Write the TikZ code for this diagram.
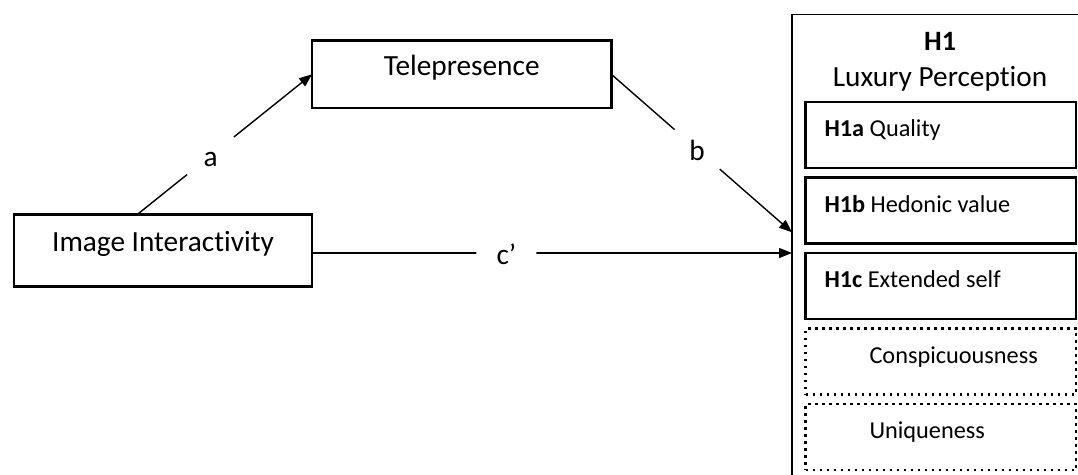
\documentclass[tikz,border=0pt]{standalone}
\usepackage{fontspec}
\setmainfont{Carlito}[Ligatures=CommonOff]
\usetikzlibrary{positioning,arrows.meta}

\begin{document}
\begin{tikzpicture}[x=1pt,y=-1pt,
  varbox/.style={draw,line width=2.7pt,outer sep=0pt,minimum width=298pt,minimum height=71.6pt,
    font=\fontsize{29.3}{35}\selectfont,text height=20pt,text depth=18pt},
  hypbox/.style={draw,line width=2.7pt,outer sep=0pt,minimum width=270.5pt,minimum height=66pt,
    inner xsep=19pt,font=\fontsize{24.3}{29}\selectfont,text height=17pt,text depth=14pt,
    execute at begin node={\hbox to 232.5pt\bgroup},execute at end node={\hfil\egroup}},
  dimbox/.style={hypbox,dash pattern=on 2.6pt off 4.4pt,execute at begin node={\hspace*{45pt}}},
  link/.style={line width=1.4pt,-{Triangle[length=13pt,width=10pt]}},
  coef/.style={circle,fill=white,minimum size=60pt,inner sep=0pt,
    font=\fontsize{29.3}{35}\selectfont,text height=22pt,text depth=0pt}]
\useasboundingbox (0,0) rectangle (1078,474);
\clip (0,0) rectangle (1078,474);
% variables
\node[varbox] (ii) at (163,250.5) {Image Interactivity};
\node[varbox,minimum width=299.3pt,minimum height=67.3pt] (tele) at (461.7,74.3) {Telepresence};
% outcome panel
\node[draw,line width=1.5pt,outer sep=0pt,minimum width=300pt,minimum height=480pt,anchor=north west] (panel) at (792,14.3) {};
\node[font=\fontsize{28}{34}\selectfont\bfseries,anchor=base] (h1) at (940,50) {H1};
\node[font=\fontsize{29.3}{35}\selectfont,anchor=base] (lux) at (940,86) {Luxury Perception};
\node[hypbox,anchor=north west] (h1a) at (805.5,102) {\textbf{H1a} Quality};
\node[hypbox,below=9.5pt of h1a] (h1b) {\textbf{H1b} Hedonic value};
\node[hypbox,below=9.5pt of h1b] (h1c) {\textbf{H1c} Extended self};
\node[dimbox,below=9.5pt of h1c] (consp) {Conspicuousness};
\node[dimbox,below=9.5pt of consp] (uniq) {Uniqueness};
% paths
\draw[link] ([xshift=-26pt]ii.north) -- node[coef,pos=0.42] {a} (tele.west);
\draw[link] (tele.east) -- node[coef,pos=0.475] {b} ([yshift=-218pt]panel.north west);
\coordinate (cstart) at ([yshift=-2.5pt]ii.east);
\draw[link] (cstart) -- node[coef,pos=0.405] {c’} (cstart -| panel.west);
\end{tikzpicture}
\end{document}
